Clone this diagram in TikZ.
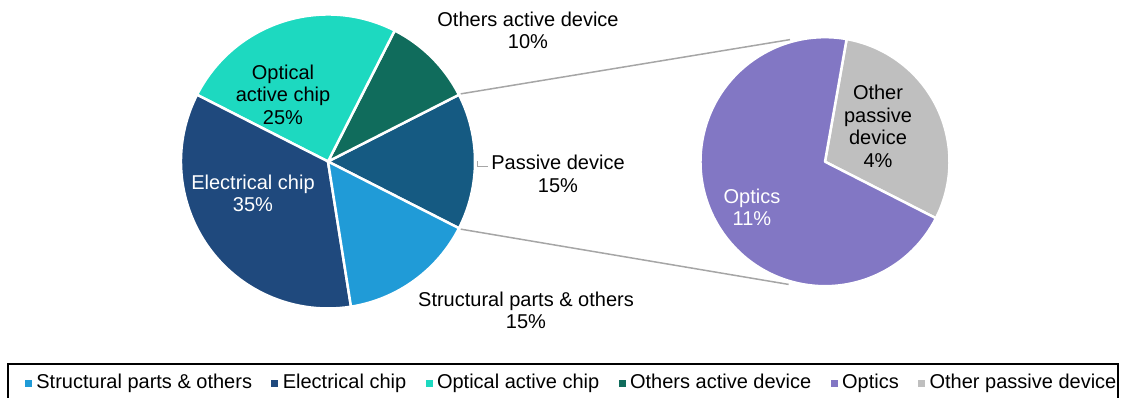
\documentclass[tikz,border=0pt]{standalone}
\usepackage{fontspec}
\setmainfont{Liberation Sans}
\usepackage{tikz}
\usetikzlibrary{positioning, calc}
\definecolor{structColor}{HTML}{209BD7}
\definecolor{elecColor}{HTML}{1F497D}
\definecolor{optColor}{HTML}{1DD9C0}
\definecolor{othActColor}{HTML}{106C5C}
\definecolor{passColor}{HTML}{155A82}
\definecolor{opticsColor}{HTML}{8277C4}
\definecolor{othPassColor}{HTML}{BFBFBF}
\definecolor{linkColor}{HTML}{A6A6A6}

\begin{document}
\begin{tikzpicture}[x=1pt, y=1pt, font=\fontsize{20}{22.5}\selectfont,
    slice/.style={draw=white, line width=2.5pt, line join=round},
    lbl/.style={align=center, inner sep=0pt},
    link/.style={draw=linkColor, line width=1.5pt},
    legmark/.style={minimum size=7pt, inner sep=0pt},
    legtext/.style={inner sep=0pt, text height=14pt, text depth=4pt}]
    \useasboundingbox (0,0) rectangle (1121,-398);
    \clip (0,0) rectangle (1121,-398);

    % Pie centres
    \coordinate (lc) at (328,-161.5);
    \coordinate (rc) at (825,-161.7);

    % Left pie (r = 147)
    \filldraw[slice, fill=passColor] (lc) -- ++(-27:147) arc[start angle=-27, end angle=27, radius=147] -- cycle;
    \filldraw[slice, fill=othActColor] (lc) -- ++(27:147) arc[start angle=27, end angle=63, radius=147] -- cycle;
    \filldraw[slice, fill=optColor] (lc) -- ++(63:147) arc[start angle=63, end angle=153, radius=147] -- cycle;
    \filldraw[slice, fill=elecColor] (lc) -- ++(153:147) arc[start angle=153, end angle=279, radius=147] -- cycle;
    \filldraw[slice, fill=structColor] (lc) -- ++(279:147) arc[start angle=279, end angle=333, radius=147] -- cycle;

    % Right pie (r = 124.5)
    \filldraw[slice, fill=othPassColor] (rc) -- ++(-27:124.5) arc[start angle=-27, end angle=80, radius=124.5] -- cycle;
    \filldraw[slice, fill=opticsColor] (rc) -- ++(80:124.5) arc[start angle=80, end angle=333, radius=124.5] -- cycle;

    % Links between the pies
    \coordinate (lt) at ($(lc)+(27:149)$);
    \coordinate (lb) at ($(lc)+(-27:149)$);
    \coordinate (rt) at ($(rc)+(106:127)$);
    \coordinate (rb) at ($(rc)+(253.5:128)$);
    \draw[link] (lt) -- (rt);
    \draw[link] (lb) -- (rb);

    % Slice labels
    \node[lbl] (othact) at (528,-30.5) {Others active device\\10\%};
    \node[lbl] (optact) at (283,-94.7) {Optical\\active chip\\25\%};
    \node[lbl, text=white] (elec) at (253,-193.5) {Electrical chip\\35\%};
    \node[lbl] (pass) at (558,-174) {Passive device\\15\%};
    \node[lbl] (struct) at (526,-310.5) {Structural parts \& others\\15\%};
    \node[lbl] (othpass) at (878,-126.5) {Other\\passive\\device\\4\%};
    \node[lbl, text=white] (optics) at (752,-207.5) {Optics\\11\%};
    \coordinate (passlead) at ($(lc)+(0:149)$);
    \draw[linkColor, line width=1pt] (passlead) -- ++(0,-5.5) -- ++(11,0);

    % Legend
    \draw[black, line width=2pt] (8,-364.3) rectangle (1117.7,-410);
    \node[legmark, fill=structColor] (m1) at (28.5,-383.5) {};
    \node[legtext, right=4pt of m1] (t1) {Structural parts \& others};
    \node[legmark, fill=elecColor, right=19pt of t1] (m2) {};
    \node[legtext, right=4pt of m2] (t2) {Electrical chip};
    \node[legmark, fill=optColor, right=19pt of t2] (m3) {};
    \node[legtext, right=4pt of m3] (t3) {Optical active chip};
    \node[legmark, fill=othActColor, right=19pt of t3] (m4) {};
    \node[legtext, right=4pt of m4] (t4) {Others active device};
    \node[legmark, fill=opticsColor, right=19pt of t4] (m5) {};
    \node[legtext, right=4pt of m5] (t5) {Optics};
    \node[legmark, fill=othPassColor, right=19pt of t5] (m6) {};
    \node[legtext, right=4pt of m6] (t6) {Other passive device};
\end{tikzpicture}
\end{document}
